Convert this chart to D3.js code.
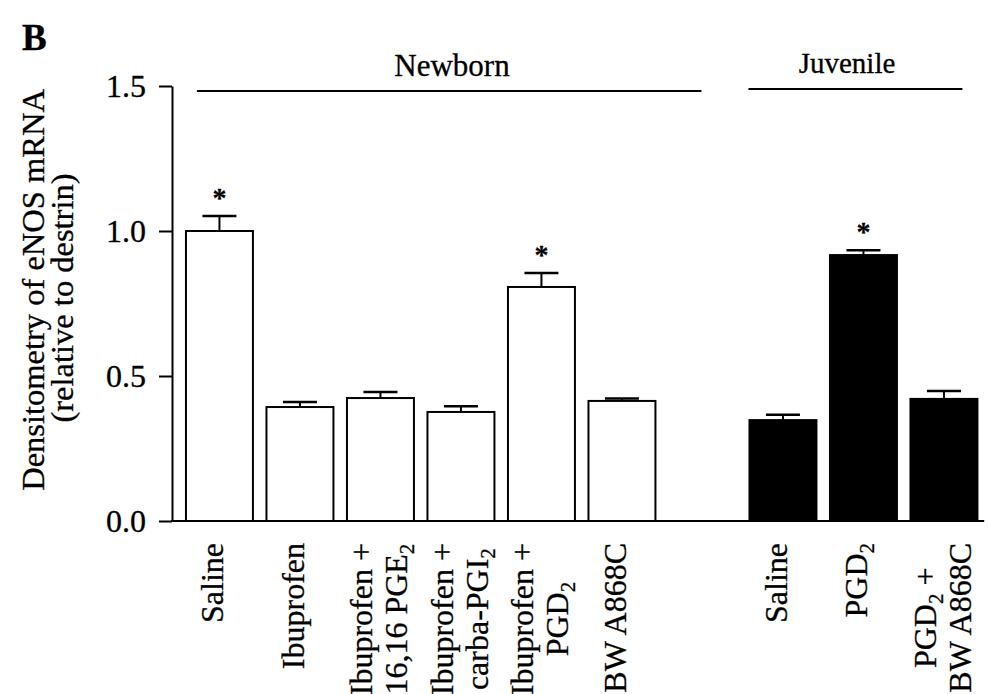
<!DOCTYPE html>
<html>

<head>
    <meta charset="utf-8">
    <title>eNOS mRNA densitometry</title>
    <script src="https://cdn.jsdelivr.net/npm/d3@7"></script>
    <style>
        body {
            margin: 0;
            background: #fff;
        }

        svg text {
            font-family: "Liberation Serif", "Times New Roman", serif;
            fill: #000;
            stroke: #000;
            stroke-width: 0.3px;
        }
    </style>
</head>

<body>
    <svg width="988" height="694"></svg>
    <script>
        // data
        const groups = ['Newborn', 'Juvenile']
        const groupOf = ['Newborn', 'Newborn', 'Newborn', 'Newborn', 'Newborn', 'Newborn', 'Juvenile', 'Juvenile', 'Juvenile']
        const labels = [
            ['Saline'],
            ['Ibuprofen'],
            ['Ibuprofen +', '16,16 PGE_2'],
            ['Ibuprofen +', 'carba-PGI_2'],
            ['Ibuprofen +', 'PGD_2'],
            ['BW A868C'],
            ['Saline'],
            ['PGD_2'],
            ['PGD_2 +', 'BW A868C']
        ]
        const values = [1.00, 0.393, 0.424, 0.376, 0.807, 0.414, 0.348, 0.917, 0.421]
        const errors = [0.052, 0.017, 0.021, 0.020, 0.048, 0.008, 0.018, 0.017, 0.027]
        const significant = [true, false, false, false, true, false, false, true, false]
        const yTicks = [0, 0.5, 1.0, 1.5]

        const FONT = 32
        const svg = d3.select('svg')

        // one empty slot between the two age groups
        const slots = []
        labels.forEach((d, i) => {
            if (i > 0 && groupOf[i] !== groupOf[i - 1]) slots.push('gap')
            slots.push('c' + i)
        })

        const x = d3.scaleBand()
            .domain(slots)
            .range([179.2, 984.2])
            .paddingInner(0.168)
            .paddingOuter(0.084)
        const y = d3.scaleLinear().domain([0, 1.5]).range([521, 86])
        const axisX = 172

        // y axis
        const yAxis = svg.append('g')
            .attr('transform', `translate(${axisX},0)`)
            .call(d3.axisLeft(y).tickValues(yTicks).tickFormat(d3.format('.1f')).tickSize(13).tickSizeOuter(0))
        yAxis.select('.domain').attr('stroke-width', 2)
        yAxis.selectAll('.tick line').attr('stroke-width', 2)
        yAxis.selectAll('.tick text')
            .attr('x', -26)
            .attr('dy', '0.34em')
            .style('font-size', FONT + 'px')
            .style('font-family', '"Liberation Serif", serif')

        // x axis baseline
        svg.append('line')
            .attr('x1', axisX - 1).attr('x2', x.range()[1])
            .attr('y1', y(0)).attr('y2', y(0))
            .attr('stroke', '#000').attr('stroke-width', 2)

        const data = values.map((v, i) => ({ v, e: errors[i], star: significant[i], key: 'c' + i, group: groupOf[i], lines: labels[i] }))

        // bars
        svg.selectAll('.bar').data(data).join('rect')
            .attr('class', 'bar')
            .attr('x', d => x(d.key))
            .attr('y', d => y(d.v))
            .attr('width', x.bandwidth())
            .attr('height', d => y(0) - y(d.v))
            .attr('fill', d => d.group === 'Juvenile' ? '#000' : '#fff')
            .attr('stroke', '#000')
            .attr('stroke-width', 2)

        // error bars (upper only)
        const err = svg.selectAll('.err').data(data).join('g').attr('class', 'err')
        err.append('line')
            .attr('x1', d => x(d.key) + x.bandwidth() / 2)
            .attr('x2', d => x(d.key) + x.bandwidth() / 2)
            .attr('y1', d => y(d.v))
            .attr('y2', d => y(d.v + d.e))
            .attr('stroke', '#000').attr('stroke-width', 2)
        err.append('line')
            .attr('x1', d => x(d.key) + x.bandwidth() / 2 - 17)
            .attr('x2', d => x(d.key) + x.bandwidth() / 2 + 17)
            .attr('y1', d => y(d.v + d.e))
            .attr('y2', d => y(d.v + d.e))
            .attr('stroke', '#000').attr('stroke-width', 2.5)

        // significance stars
        svg.selectAll('.star').data(data.filter(d => d.star)).join('text')
            .attr('class', 'star')
            .attr('x', d => x(d.key) + x.bandwidth() / 2)
            .attr('y', d => y(d.v + d.e) - 9)
            .attr('text-anchor', 'middle')
            .style('font-size', '28px')
            .style('font-weight', 'bold')
            .text('*')

        // write a string with _2 style subscripts into a text node
        function rich (textSel, str) {
            const parts = str.split(/_(\d)/)
            let shifted = false
            parts.forEach((p, i) => {
                if (!p) return
                const t = textSel.append('tspan').text(p)
                if (i % 2 === 1) {
                    t.attr('dy', 7).style('font-size', '21px')
                    shifted = true
                } else if (shifted) {
                    t.attr('dy', -7)
                    shifted = false
                }
            })
        }

        // category labels, rotated, multi-line ones centred on each other
        const labelTop = 543
        svg.selectAll('.xlab').data(data).join('g')
            .attr('class', 'xlab')
            .each(function (d) {
                const cx = x(d.key) + x.bandwidth() / 2
                const g = d3.select(this)
                const offs = d.lines.length === 1 ? [4] : [-8, 27]
                const texts = d.lines.map(line => {
                    const t = g.append('text')
                        .attr('text-anchor', 'middle')
                        .style('font-size', FONT + 'px')
                    rich(t, line)
                    return t
                })
                const maxLen = d3.max(texts, t => t.node().getComputedTextLength())
                texts.forEach((t, k) => {
                    t.attr('transform', `translate(${cx + offs[k]},${labelTop + maxLen / 2}) rotate(-90)`)
                })
            })

        // group headers with their rules
        const groupInfo = groups.map(name => {
            const keys = data.filter(d => d.group === name).map(d => d.key)
            return { name, first: keys[0], last: keys[keys.length - 1] }
        })
        const hdr = svg.selectAll('.hdr').data(groupInfo).join('g').attr('class', 'hdr')
        hdr.append('line')
            .attr('x1', d => d.name === 'Newborn' ? x(d.first) + 11 : x(d.first) - 1)
            .attr('x2', d => d.name === 'Newborn' ? x(d.last) + x.bandwidth() + 46 : x(d.last) + x.bandwidth() - 15)
            .attr('y1', d => d.name === 'Newborn' ? 91 : 89)
            .attr('y2', d => d.name === 'Newborn' ? 91 : 89)
            .attr('stroke', '#000').attr('stroke-width', 2)
        hdr.append('text')
            .attr('text-anchor', 'middle')
            .attr('x', d => d.name === 'Newborn' ? 452 : 847)
            .attr('y', d => d.name === 'Newborn' ? 76 : 73)
            .style('font-size', d => d.name === 'Newborn' ? '31px' : '29px')
            .text(d => d.name)

        // y axis title
        const yTitle = ['Densitometry of eNOS mRNA', '(relative to destrin)']
        svg.selectAll('.ytitle').data(yTitle).join('text')
            .attr('class', 'ytitle')
            .attr('text-anchor', 'middle')
            .attr('transform', (d, i) => `translate(${i === 0 ? 44 : 73},${i === 0 ? 290 : 298}) rotate(-90)`)
            .style('font-size', '32.5px')
            .text(d => d)

        // panel letter
        svg.append('text')
            .attr('x', 22).attr('y', 50)
            .style('font-size', '37px')
            .style('font-weight', 'bold')
            .text('B')
    </script>
</body>

</html>
